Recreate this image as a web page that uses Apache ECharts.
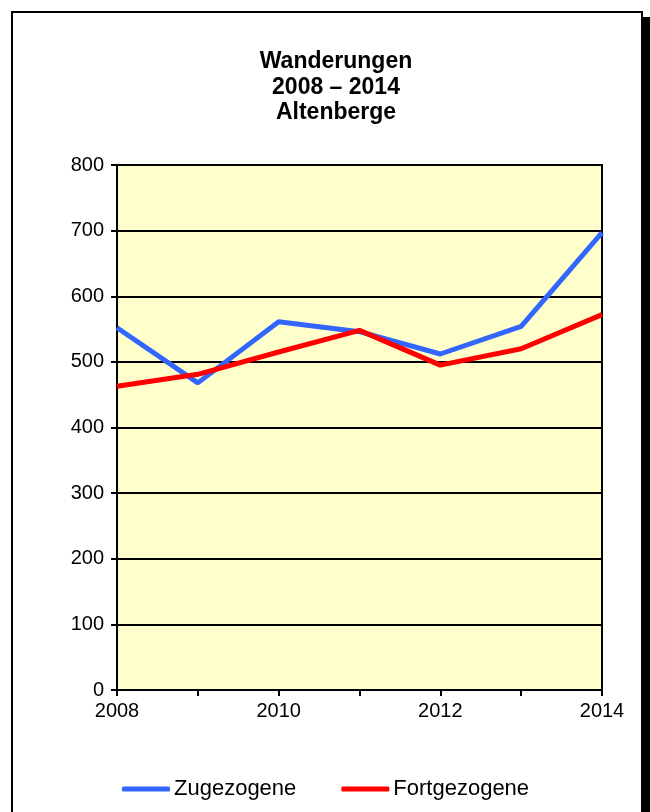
<!DOCTYPE html>
<html>
<head>
<meta charset="utf-8">
<script src="https://cdn.jsdelivr.net/npm/echarts@6/dist/echarts.min.js"></script>
<style>html,body{margin:0;padding:0;background:#fff}#c{width:650px;height:812px}</style>
</head>
<body>
<div id="c"></div>
<script>
const categories = ['2008','2009','2010','2011','2012','2013','2014'];
const zugezogene = [552, 468, 561, 546, 512, 554, 697];
const fortgezogene = [463, 481, 515, 548, 495, 520, 572];
const titleLines = ['Wanderungen', '2008 \u2013 2014', 'Altenberge'];
const yTicks = [0, 800, 100];

const chart = echarts.init(document.getElementById('c'), null, {renderer: 'canvas'});
chart.setOption({
  backgroundColor: '#fff',
  animation: false,
  textStyle: {fontFamily: 'Liberation Sans, Arial, sans-serif'},
  graphic: [
    {type: 'rect', shape: {x: 643, y: 17, width: 10, height: 800}, style: {fill: '#000'}, z: 0},
    {type: 'rect', shape: {x: 12, y: 12, width: 630, height: 810}, style: {fill: 'none', stroke: '#000', lineWidth: 2}, z: 0}
  ],
  title: {
    text: titleLines.join('\n'),
    left: 331,
    textAlign: 'center',
    top: 44,
    textStyle: {fontSize: 23, fontWeight: 'bold', color: '#000', lineHeight: 25.5, fontFamily: 'Liberation Sans, Arial, sans-serif'}
  },
  legend: {
    bottom: 7,
    left: 117,
    itemGap: 45,
    itemWidth: 48,
    itemHeight: 5,
    icon: 'roundRect',
    textStyle: {fontSize: 22, color: '#000', padding: [0, 0, 0, -1]},
    data: ['Zugezogene', 'Fortgezogene']
  },
  grid: {left: 117, right: 48, top: 165, bottom: 122, containLabel: false,
    show: true, backgroundColor: '#FFFFCC', borderColor: '#000', borderWidth: 2},
  xAxis: {
    type: 'category',
    data: categories,
    boundaryGap: false,
    axisLine: {show: true, lineStyle: {color: '#000', width: 2}},
    axisTick: {show: true, length: 6, interval: 0, lineStyle: {color: '#000', width: 2}},
    axisLabel: {interval: 1, fontSize: 20, color: '#000', margin: 11},
    splitLine: {show: false}
  },
  yAxis: {
    type: 'value',
    min: yTicks[0], max: yTicks[1], interval: yTicks[2],
    axisLine: {show: true, lineStyle: {color: '#000', width: 2}},
    axisTick: {show: true, length: 6, lineStyle: {color: '#000', width: 2}},
    axisLabel: {fontSize: 20, color: '#000', margin: 13},
    splitLine: {show: true, lineStyle: {color: '#000', width: 2}}
  },
  series: [
    {name: 'Zugezogene', type: 'line', data: zugezogene, symbol: 'none',
      lineStyle: {color: '#3366FF', width: 5}, itemStyle: {color: '#3366FF'}, z: 3},
    {name: 'Fortgezogene', type: 'line', data: fortgezogene, symbol: 'none',
      lineStyle: {color: '#FF0000', width: 5}, itemStyle: {color: '#FF0000'}, z: 4}
  ]
});
</script>
</body>
</html>
